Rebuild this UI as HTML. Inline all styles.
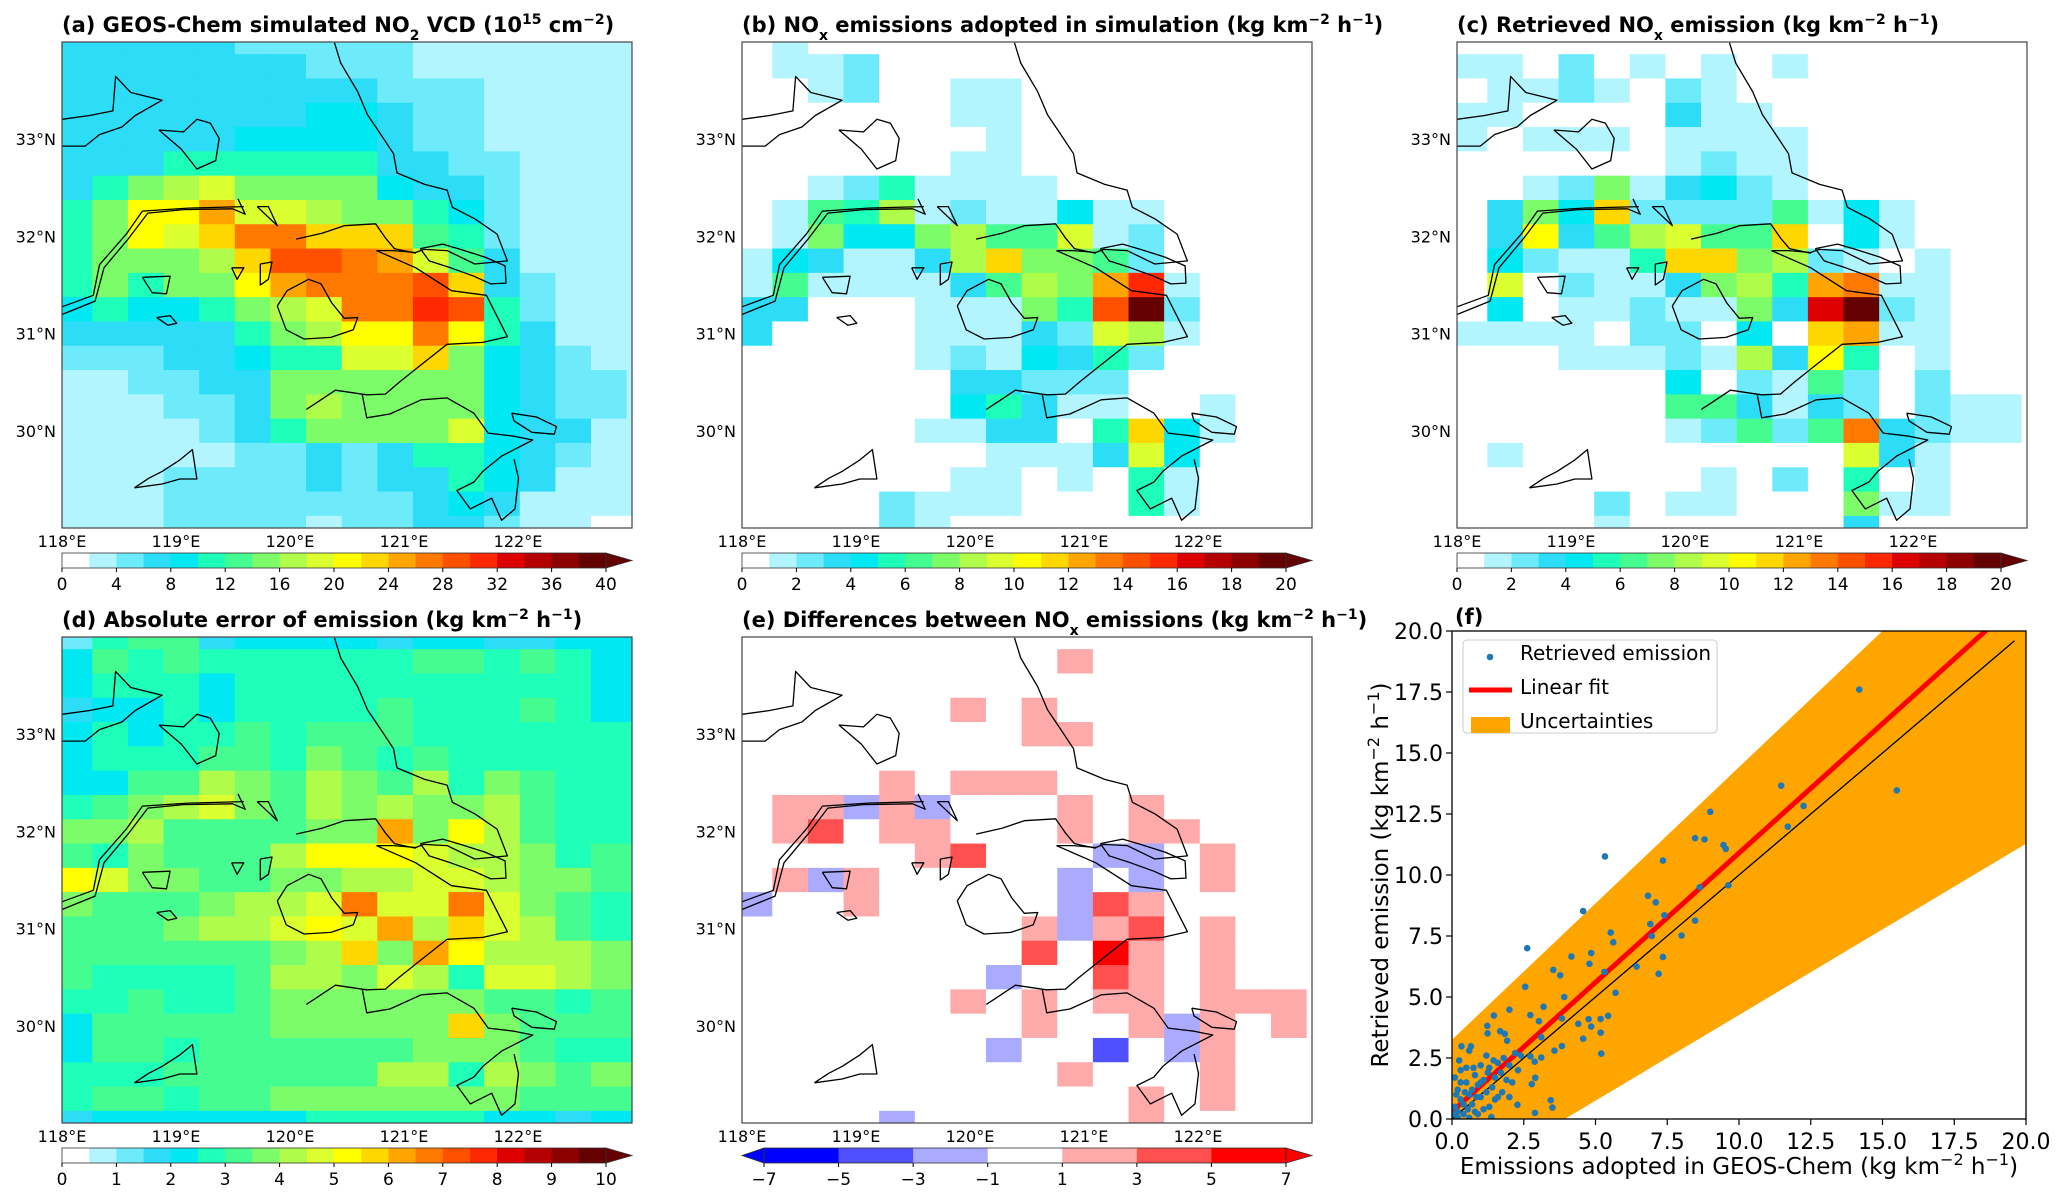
<!DOCTYPE html>
<html><head><meta charset="utf-8">
<style>
html,body{margin:0;padding:0;background:#fff;}
svg{display:block;font-family:"DejaVu Sans","Liberation Sans",sans-serif;}
</style></head>
<body>
<svg id="fig" width="2067" height="1200" viewBox="0 0 2067 1200" xmlns="http://www.w3.org/2000/svg"></svg>
<script>
// ---------- DATA ----------
const lonTicks = [118,119,120,121,122];
const latTicks = [30,31,32,33];
const cbTicksA = [0,4,8,12,16,20,24,28,32,36,40];
const cbTicksBC = [0,2,4,6,8,10,12,14,16,18,20];
const cbTicksD = [0,1,2,3,4,5,6,7,8,9,10];
const cbTicksE = [-7,-5,-3,-1,1,3,5,7];
// panel (a): NO2 VCD (1e15 cm-2), rows north->south, 17 cols west->east
const gridA = [
[7,7,7,7,7,5,5,5,5,5,3,3,3,3,3,3,3],
[7,7,7,7,7,7,7,5,5,5,3,3,3,3,3,3,3],
[7,7,7,7,7,7,7,7,7,5,5,5,3,3,3,3,3],
[7,7,7,7,7,7,7,9,9,7,5,5,3,3,3,3,3],
[7,7,7,7,7,9,9,9,9,7,5,5,3,3,3,3,3],
[7,7,7,11,11,11,11,11,11,7,7,5,5,3,3,3,3],
[7,11,15,17,19,15,15,15,15,9,7,7,5,3,3,3,3],
[11,15,21,21,25,19,19,17,15,15,11,9,5,3,3,3,3],
[11,15,21,19,23,27,27,23,23,23,13,11,5,3,3,3,3],
[11,15,15,15,17,23,29,29,27,25,19,13,7,3,3,3,3],
[11,15,11,15,15,21,25,27,27,27,29,23,7,5,3,3,3],
[9,11,9,9,11,15,17,19,27,27,31,29,11,5,3,3,3],
[7,7,7,7,7,11,15,17,21,21,27,21,11,7,3,3,3],
[5,5,5,7,7,9,11,11,19,19,23,15,9,7,5,3,3],
[3,3,5,5,7,7,15,15,15,15,15,15,9,7,5,5,3],
[3,3,3,5,5,7,15,17,15,15,15,15,9,7,5,5,3],
[3,3,3,3,5,7,11,15,15,15,15,19,9,7,7,3,3],
[3,3,3,3,3,5,5,7,5,7,11,11,9,7,5,3,3],
[3,3,3,5,5,5,5,7,5,7,7,11,9,7,3,3,3],
[3,3,3,5,5,5,5,5,5,5,7,9,7,3,3,3,3],
[3,3,3,5,5,5,5,3,5,5,7,7,5,3,3,0,0]];
// panel (b): emissions adopted (kg km-2 h-1)
const gridB = [
[0,1.5,0,0,0,0,0,0,0,0,0,0,0,0,0,0,0],
[0,1.5,1.5,2.5,0,0,0,0,0,0,0,0,0,0,0,0,0],
[0,0,1.5,2.5,0,0,1.5,1.5,0,0,0,0,0,0,0,0,0],
[0,0,0,0,0,0,1.5,1.5,0,0,0,0,0,0,0,0,0],
[0,0,0,0,0,0,0,1.5,0,0,0,0,0,0,0,0,0],
[0,0,0,0,0,0,1.5,1.5,0,0,0,0,0,0,0,0,0],
[0,0,1.5,2.5,5.5,1.5,1.5,1.5,1.5,0,0,0,0,0,0,0,0],
[0,1.5,6.5,5.5,8.5,1.5,2.5,1.5,1.5,4.5,1.5,1.5,0,0,0,0,0],
[0,1.5,7.5,4.5,4.5,7.5,8.5,6.5,6.5,9.5,1.5,2.5,0,0,0,0,0],
[1.5,4.5,3.5,1.5,1.5,3.5,8.5,11.5,7.5,7.5,6.5,2.5,0,0,0,0,0],
[1.5,6.5,1.5,1.5,1.5,1.5,3.5,6.5,8.5,7.5,12.5,15.5,1.5,0,0,0,0],
[3.5,3.5,0,0,0,1.5,1.5,1.5,7.5,5.5,14.5,19.5,2.5,0,0,0,0],
[3.5,0,0,0,0,1.5,1.5,1.5,3.5,2.5,9.5,8.5,1.5,0,0,0,0],
[0,0,0,0,0,1.5,2.5,1.5,4.5,3.5,5.5,2.5,0,0,0,0,0],
[0,0,0,0,0,0,3.5,3.5,2.5,2.5,2.5,0,0,0,0,0,0],
[0,0,0,0,0,0,4.5,5.5,3.5,1.5,1.5,0,0,1.5,0,0,0],
[0,0,0,0,0,1.5,1.5,3.5,3.5,0,5.5,11.5,4.5,1.5,0,0,0],
[0,0,0,0,0,0,0,1.5,1.5,1.5,3.5,9.5,4.5,0,0,0,0],
[0,0,0,0,0,0,1.5,1.5,0,1.5,0,5.5,1.5,0,0,0,0],
[0,0,0,0,2.5,1.5,1.5,1.5,0,0,0,5.5,1.5,0,0,0,0],
[0,0,0,0,2.5,1.5,0,0,0,0,0,0,0,0,0,0,0]];
// panel (c): retrieved emissions
const gridC = [
[0,0,0,0,0,0,0,0,0,0,0,0,0,0,0,0,0],
[1.5,1.5,0,2.5,0,1.5,0,1.5,0,1.5,0,0,0,0,0,0,0],
[0,1.5,1.5,2.5,1.5,0,2.5,1.5,0,0,0,0,0,0,0,0,0],
[1.5,1.5,0,0,0,0,3.5,1.5,1.5,0,0,0,0,0,0,0,0],
[1.5,0,1.5,1.5,1.5,0,1.5,1.5,1.5,1.5,0,0,0,0,0,0,0],
[0,0,0,0,0,0,1.5,2.5,1.5,1.5,0,0,0,0,0,0,0],
[0,0,1.5,2.5,7.5,1.5,3.5,4.5,2.5,1.5,0,0,0,0,0,0,0],
[0,3.5,7.5,4.5,11.5,2.5,2.5,2.5,2.5,6.5,1.5,4.5,1.5,0,0,0,0],
[0,3.5,10.5,3.5,6.5,8.5,9.5,6.5,6.5,11.5,0,4.5,1.5,0,0,0,0],
[0,4.5,2.5,1.5,1.5,5.5,11.5,11.5,7.5,8.5,2.5,1.5,0,1.5,0,0,0],
[0,9.5,0,2.5,1.5,1.5,3.5,7.5,8.5,5.5,12.5,13.5,1.5,1.5,0,0,0],
[0,4.5,0,1.5,1.5,2.5,1.5,1.5,7.5,3.5,16.5,19.5,2.5,1.5,0,0,0],
[1.5,1.5,1.5,1.5,0,2.5,2.5,0,4.5,0,11.5,12.5,1.5,1.5,0,0,0],
[0,0,0,1.5,1.5,1.5,2.5,1.5,8.5,3.5,10.5,5.5,0,1.5,0,0,0],
[0,0,0,0,0,0,4.5,0,2.5,1.5,6.5,2.5,0,2.5,0,0,0],
[0,0,0,0,0,0,6.5,6.5,3.5,1.5,3.5,2.5,0,2.5,1.5,1.5,0],
[0,0,0,0,0,0,1.5,2.5,6.5,2.5,6.5,13.5,3.5,2.5,1.5,1.5,0],
[0,1.5,0,0,0,0,0,0,0,0,0,9.5,3.5,1.5,0,0,0],
[0,0,0,0,0,0,0,1.5,0,2.5,0,5.5,0,1.5,0,0,0],
[0,0,0,0,2.5,0,1.5,1.5,0,0,0,7.5,1.5,1.5,0,0,0],
[0,0,0,0,1.5,0,0,0,0,0,0,3.5,0,0,0,0,0]];
// panel (d): absolute error
const gridD = [
[1.25,2.75,3.25,3.25,1.75,2.25,2.25,2.25,2.25,1.75,2.25,2.25,1.75,1.75,2.25,2.25,2.25],
[2.25,3.25,2.75,3.25,2.75,2.75,2.75,2.75,2.75,2.75,3.25,3.25,2.75,3.25,2.75,2.25,2.25],
[2.25,2.75,2.75,2.75,2.25,2.75,2.75,2.75,2.75,2.75,2.75,2.75,2.75,2.75,2.75,2.25,2.25],
[1.75,2.25,2.25,2.75,2.25,2.75,2.75,2.75,2.75,3.25,2.75,2.75,2.75,3.25,2.75,2.25,2.25],
[2.25,2.75,2.25,2.75,2.75,3.25,2.75,3.25,3.25,3.25,2.75,2.75,2.75,2.75,2.75,2.75,2.75],
[2.25,2.75,2.75,2.75,3.25,3.25,2.75,3.75,3.25,2.75,3.25,2.75,2.75,2.75,2.75,2.75,2.75],
[2.25,2.25,3.25,3.25,4.25,3.75,3.25,4.25,3.75,3.25,4.25,2.75,3.75,3.25,2.75,2.75,2.75],
[2.75,3.25,3.75,4.25,4.75,3.75,3.25,4.25,3.75,4.25,3.75,3.75,4.25,3.25,2.75,2.75,2.75],
[3.75,3.75,4.25,3.25,3.25,3.25,3.25,3.75,3.75,6.25,3.75,5.25,4.25,3.25,2.75,2.75,2.75],
[3.25,2.75,3.75,3.25,3.25,3.25,4.25,5.25,5.25,5.25,4.75,4.25,4.25,3.75,2.75,3.25,3.25],
[5.25,4.75,3.75,3.75,3.25,3.25,3.75,3.75,4.25,4.25,4.75,4.75,4.25,3.75,3.75,3.25,3.25],
[3.75,3.25,3.25,3.25,3.75,4.25,4.25,4.75,6.75,4.75,4.75,6.75,4.75,3.75,3.25,2.75,2.75],
[3.25,3.25,3.25,3.75,4.25,4.25,4.75,5.25,4.75,6.25,4.25,5.75,4.75,4.25,3.25,2.75,2.75],
[3.25,3.25,3.25,3.25,3.25,3.25,3.75,4.25,5.75,3.75,6.25,5.25,4.25,4.25,4.25,3.75,3.75],
[3.25,2.75,2.75,2.75,2.75,3.25,4.25,4.25,3.75,4.75,4.25,2.75,4.75,4.75,4.25,3.75,3.75],
[2.75,2.75,3.25,2.75,2.75,3.25,3.75,3.75,3.75,3.75,3.75,3.75,3.25,3.25,2.75,3.25,3.25],
[2.25,3.25,3.25,3.25,3.25,3.25,3.75,3.75,3.75,3.75,3.75,5.75,3.75,3.25,3.25,3.25,3.25],
[2.25,3.25,3.25,2.75,3.25,3.25,3.25,3.25,3.25,3.25,3.75,3.75,3.75,3.25,2.75,2.75,2.75],
[2.75,2.75,2.75,3.25,3.25,3.25,3.25,3.25,3.25,4.25,4.25,2.75,4.25,3.75,3.25,3.75,3.75],
[2.75,3.25,3.25,2.75,3.25,3.25,3.75,3.75,3.75,3.75,3.75,3.75,3.75,3.25,3.25,3.25,3.25],
[1.75,2.25,2.25,2.25,2.25,2.25,2.25,2.75,2.75,2.75,2.75,2.75,2.25,2.25,1.75,2.25,2.25]];
// panel (e): differences
const gridE = [
[0,0,0,0,0,0,0,0,0,0,0,0,0,0,0,0,0],
[0,0,0,0,0,0,0,0,0,2,0,0,0,0,0,0,0],
[0,0,0,0,0,0,0,0,0,0,0,0,0,0,0,0,0],
[0,0,0,0,0,0,2,0,2,0,0,0,0,0,0,0,0],
[0,0,0,0,0,0,0,0,2,2,0,0,0,0,0,0,0],
[0,0,0,0,0,0,0,0,0,0,0,0,0,0,0,0,0],
[0,0,0,0,2,0,2,2,2,0,0,0,0,0,0,0,0],
[0,2,2,-2,2,-2,0,0,0,2,0,2,0,0,0,0,0],
[0,2,4,0,2,2,0,0,0,2,0,2,2,0,0,0,0],
[0,0,0,0,0,2,4,0,0,0,-2,-2,0,2,0,0,0],
[0,2,-2,2,0,0,0,0,0,-2,0,-2,0,2,0,0,0],
[-2,0,0,2,0,0,0,0,0,-2,4,2,0,0,0,0,0],
[0,0,0,0,0,0,0,0,2,-2,2,4,0,2,0,0,0],
[0,0,0,0,0,0,0,0,4,0,6,2,0,2,0,0,0],
[0,0,0,0,0,0,0,-2,0,0,4,2,0,2,0,0,0],
[0,0,0,0,0,0,2,0,2,0,2,2,0,2,2,2,0],
[0,0,0,0,0,0,0,0,2,0,0,2,-2,2,0,2,0],
[0,0,0,0,0,0,0,-2,0,0,-4,0,-2,2,0,0,0],
[0,0,0,0,0,0,0,0,0,2,0,0,0,2,0,0,0],
[0,0,0,0,0,0,0,0,0,0,0,2,0,2,0,0,0],
[0,0,0,0,-2,0,0,0,0,0,0,2,0,0,0,0,0]];
// panel (f)
const fTicks = [0,2.5,5,7.5,10,12.5,15,17.5,20];
const fTickLabels = ["0.0","2.5","5.0","7.5","10.0","12.5","15.0","17.5","20.0"];
const adoptedX = [14.19,11.47,15.5,12.25,11.7,9.0,8.47,8.8,9.46,9.54,5.33,7.35,9.63,8.63,6.83,7.1,4.57,7.4,8.47,6.91,6.96,8.0,5.53,5.62,2.62,4.85,4.16,4.79,7.35,6.43,7.2,3.53,3.77,5.31,2.55,5.7,3.91,3.19,2.0,1.46,2.73,5.44,3.83,3.03,4.76,5.18,4.4,4.85,1.23,1.68,1.84,1.24,5.18,3.11,4.57,1.92,0.33,0.66,3.83,5.2,3.57,2.73,3.11,2.88,2.9,2.78,3.44,3.5,2.89,2.28,1.37,
0.1,0.2,0.3,0.1,0.2,0.4,0.5,0.6,0.7,0.8,0.9,1.0,1.1,1.2,1.3,1.4,1.5,1.6,1.7,1.8,1.9,2.0,2.1,2.2,2.3,0.3,0.5,0.6,0.8,1.0,1.2,1.3,0.9,0.6,0.3,0.15,0.4,0.7,1.1,1.5,1.75,2.0,2.4,0.05,0.2,1.0,1.6,0.45,0.55,0.85,1.25,1.45,0.25,0.75];
const retrievedY = [17.6,13.66,13.47,12.83,11.98,12.59,11.51,11.46,11.23,11.07,10.76,10.59,9.58,9.5,9.15,8.88,8.52,8.35,8.13,7.99,7.5,7.52,7.64,7.24,7.0,6.8,6.66,6.36,6.64,6.25,5.95,6.11,5.89,6.03,5.42,5.17,5.0,4.6,4.48,4.24,4.26,4.23,4.12,4.01,4.09,4.1,3.9,3.79,3.82,3.6,3.49,3.51,3.54,3.35,3.29,3.21,2.98,2.98,2.99,2.68,2.8,2.57,2.52,2.35,1.69,1.43,0.77,0.47,0.25,0.58,0.08,
1.7,1.2,0.8,0.5,0.3,0.2,1.5,1.0,0.6,0.3,1.4,0.9,1.6,2.6,2.1,1.3,0.8,2.3,1.9,2.5,1.6,2.2,1.5,2.7,2.0,2.0,2.1,2.8,1.8,2.2,1.1,0.5,0.2,0.05,1.5,1.0,0.6,1.2,0.4,1.7,1.1,0.9,2.6,0.2,0.05,1.5,0.9,1.1,0.4,0.9,1.9,2.4,2.4,2.1];
const fitLine = [0.3, 1.06];      // intercept, slope
const upperBand = [3.25, 1.117];
const lowerBand = [-3.93*0.702, 0.702];
const oneToOneEnd = 19.6;

// ---------- RENDER ----------
const NS="http://www.w3.org/2000/svg";
const svg=document.getElementById('fig');
function mk(tag,attrs,parent){const e=document.createElementNS(NS,tag);for(const k in attrs)e.setAttribute(k,attrs[k]);(parent||svg).appendChild(e);return e;}
const PAL=['#ffffff','#b3f5ff','#6eebfa','#2ddcf7','#00e8f2','#1effba','#45fc90','#7dfc6a','#b0fc4a','#dcff30','#ffff00','#ffd700','#ffa500','#ff7800','#ff5000','#ff2800','#dc0000','#b40000','#8c0000','#640000'];
const EPAL=['#0000ff','#0000ff','#5050ff','#aaaaff','#ffffff','#ffaaaa','#ff5050','#ff0000','#ff0000'];
const EEDGE=[-7,-5,-3,-1,1,3,5,7];
function seqColor(v,step){let l=Math.floor(v/step);if(l<0)l=0;if(l>19)l=19;return PAL[l];}
function divColor(v){let i=0;while(i<EEDGE.length&&v>=EEDGE[i])i++;return EPAL[i];}

const MW=570,MH=486;
const lonEdges=[118];for(let k=0;k<16;k++)lonEdges.push(118.2656+0.3125*k);lonEdges.push(123);
const latEdges=[34];for(let k=0;k<20;k++)latEdges.push(33.875-0.25*k);latEdges.push(29);

// coastline in reference map-pixel coords (1276 x 1270 frame)
const coast=[
[[138,822],[212,787],[232,700],[288,622],[330,557],[410,548],[520,546],[548,560],[532,520]],
[[138,802],[208,772],[222,692],[282,612],[318,552],[420,544],[545,540]],
[[748,112],[762,165],[800,240],[822,300],[852,352],[880,402],[888,452],[950,482],[1000,497],[1012,542],[1062,572],[1112,612],[1135,682],[1062,690],[1000,655],[948,652],[930,660],[880,655],[842,655]],
[[662,625],[720,610],[770,590],[840,585],[862,622],[882,650],[930,662]],
[[940,650],[990,638],[1030,652],[1085,672],[1130,695],[1132,740],[1098,742],[1060,722],[1008,700],[960,682],[940,650]],
[[842,655],[930,700],[1010,760],[1088,772],[1135,880],[1080,895],[1000,900],[935,960],[892,1000],[862,1030],[820,1032],[750,1020],[705,1055],[685,1070]],
[[810,1030],[820,1092],[872,1082],[942,1045],[1000,1040],[1060,1080],[1092,1132],[1150,1140],[1192,1150],[1122,1192],[1080,1232],[1060,1260],[1022,1282],[1052,1330],[1100,1302],[1122,1360],[1152,1330],[1160,1250],[1150,1200]],
[[1145,1080],[1200,1090],[1245,1115],[1240,1135],[1190,1130],[1150,1100],[1145,1080]],
[[620,800],[642,760],[690,730],[718,742],[742,792],[770,832],[800,830],[790,862],[740,882],[680,886],[640,862],[620,800]],
[[138,312],[200,302],[252,290],[258,200],[292,242],[362,262],[302,302],[272,332],[222,352],[190,382],[138,382]],
[[355,340],[410,345],[440,312],[470,322],[490,362],[482,420],[440,442],[420,412],[405,390],[355,340]],
[[300,1275],[332,1250],[362,1232],[402,1202],[430,1175],[440,1252],[402,1252],[362,1265],[300,1275]],
[[318,725],[380,722],[372,768],[340,765],[318,725]],
[[350,830],[380,825],[395,845],[375,850],[350,830]],
[[518,700],[545,700],[530,730],[518,700]],
[[582,690],[608,685],[600,730],[582,745],[582,690]],
[[575,540],[600,540],[620,590],[575,540]]];

function drawMap(name,x0,y0,grid,colorFn,title,cb){
  const g=mk('g',{});
  
  
  const X=lon=>x0+(lon-118)/5*MW, Y=lat=>y0+(34-lat)/5*MH;
  const t=mk('text',{x:x0,y:y0-10,'font-size':21,'font-weight':'bold',fill:'#000'},g);
  
  
  t.innerHTML=title;
  const cells=mk('g',{},g);
  
  
  for(let r=0;r<grid.length;r++)for(let c=0;c<grid[r].length;c++){
    const v=grid[r][c];
    const xa=X(lonEdges[c]),xb=X(lonEdges[c+1]),ya=Y(latEdges[r]),yb=Y(latEdges[r+1]);
    const rc=mk('rect',{x:xa,y:ya,width:xb-xa+0.4,height:yb-ya+0.4,fill:colorFn(v)},cells);
    
    
  }
  const cl=mk('g',{fill:'none',stroke:'#000','stroke-width':1.3,'stroke-linejoin':'round'},g);
  
  
  coast.forEach(p=>{mk('polyline',{points:p.map(q=>(x0+(q[0]-138)/1276*MW).toFixed(1)+','+(y0+(q[1]-110)/1270*MH).toFixed(1)).join(' ')},cl);});
  const fr=mk('rect',{x:x0,y:y0,width:MW,height:MH,fill:'none',stroke:'#444','stroke-width':1.2},g);
  
  
  lonTicks.forEach(l=>{const e=mk('text',{x:X(l),y:y0+MH+19,'font-size':16,'text-anchor':'middle'},g);
    
    
    e.textContent=l+'°E';});
  latTicks.forEach(l=>{const e=mk('text',{x:x0-6,y:Y(l)+6,'font-size':16,'text-anchor':'end'},g);
    
    
    e.textContent=l+'°N';});
  // colorbar
  const cy=y0+MH+25, ch=15;
  const cg=mk('g',{},g);
  
  
  const ticks=cb.ticks, vmin=ticks[0], vmax=ticks[ticks.length-1];
  const cx0=x0+(cb.both?22:0), cx1=x0+MW-(cb.both?26:26);
  const CX=v=>cx0+(v-vmin)/(vmax-vmin)*(cx1-cx0);
  const nseg=cb.segs;
  for(let i=0;i<nseg;i++){const va=vmin+(vmax-vmin)*i/nseg, vb=vmin+(vmax-vmin)*(i+1)/nseg;
    mk('rect',{x:CX(va),y:cy,width:CX(vb)-CX(va)+0.4,height:ch,fill:colorFn((va+vb)/2)},cg);}
  mk('polygon',{points:`${cx1},${cy} ${x0+MW},${cy+ch/2} ${cx1},${cy+ch}`,fill:colorFn(vmax+0.01),stroke:'#333','stroke-width':0.8},cg);
  if(cb.both)mk('polygon',{points:`${cx0},${cy} ${x0},${cy+ch/2} ${cx0},${cy+ch}`,fill:colorFn(vmin-0.01),stroke:'#333','stroke-width':0.8},cg);
  mk('rect',{x:cx0,y:cy,width:cx1-cx0,height:ch,fill:'none',stroke:'#333','stroke-width':0.8},cg);
  ticks.forEach(v=>{mk('line',{x1:CX(v),x2:CX(v),y1:cy+ch,y2:cy+ch+4,stroke:'#000'},cg);
    const e=mk('text',{x:CX(v),y:cy+ch+22,'font-size':17,'text-anchor':'middle'},cg);
    
    
    e.textContent=(v<0?'\u2212'+(-v):v);});
}
const unit='(kg km<tspan baseline-shift="super" font-size="14">\u22122</tspan> h<tspan baseline-shift="super" font-size="14">\u22121</tspan>)';
drawMap('panel-a-no2-vcd',62,42,gridA,v=>seqColor(v,2),'(a) GEOS-Chem simulated NO<tspan baseline-shift="sub" font-size="14">2</tspan> VCD (10<tspan baseline-shift="super" font-size="14">15</tspan> cm<tspan baseline-shift="super" font-size="14">\u22122</tspan>)',{ticks:cbTicksA,segs:20});
drawMap('panel-b-adopted-emissions',742,42,gridB,v=>seqColor(v,1),'(b) NO<tspan baseline-shift="sub" font-size="14">x</tspan> emissions adopted in simulation '+unit,{ticks:cbTicksBC,segs:20});
drawMap('panel-c-retrieved-emission',1457,42,gridC,v=>seqColor(v,1),'(c) Retrieved NO<tspan baseline-shift="sub" font-size="14">x</tspan> emission '+unit,{ticks:cbTicksBC,segs:20});
drawMap('panel-d-absolute-error',62,637,gridD,v=>seqColor(v,0.5),'(d) Absolute error of emission '+unit,{ticks:cbTicksD,segs:20});
drawMap('panel-e-differences',742,637,gridE,divColor,'(e) Differences between NO<tspan baseline-shift="sub" font-size="14">x</tspan> emissions '+unit,{ticks:cbTicksE,segs:7,both:true});

// ---------- panel f ----------
(function(){
  const L=1452,R=2026,T=631,B=1119;
  const g=mk('g',{});
  
  
  const X=v=>L+v/20*(R-L), Y=v=>B-v/20*(B-T);
  const cp=mk('clipPath',{id:'fclip'},g);mk('rect',{x:L,y:T,width:R-L,height:B-T},cp);
  const pg=mk('g',{'clip-path':'url(#fclip)'},g);
  const band=mk('polygon',{points:`${X(0)},${Y(upperBand[0])} ${X(20)},${Y(upperBand[0]+upperBand[1]*20)} ${X(20)},${Y(lowerBand[0]+lowerBand[1]*20)} ${X(-lowerBand[0]/lowerBand[1])},${Y(0)} ${X(0)},${Y(0)}`,fill:'#ffa500'},pg);
  
  
  const one=mk('line',{x1:X(0),y1:Y(0),x2:X(oneToOneEnd),y2:Y(oneToOneEnd),stroke:'#000','stroke-width':1.3},pg);
  
  
  const fit=mk('line',{x1:X(0),y1:Y(fitLine[0]),x2:X(20),y2:Y(fitLine[0]+fitLine[1]*20),stroke:'#ff0000','stroke-width':5},pg);
  
  
  for(let i=0;i<adoptedX.length;i++){
    const d=mk('circle',{cx:X(adoptedX[i]),cy:Y(retrievedY[i]),r:3.3,fill:'#1f77b4'},pg);
    
    
  }
  mk('rect',{x:L,y:T,width:R-L,height:B-T,fill:'none',stroke:'#000','stroke-width':1.3},g);
  fTicks.forEach((v,i)=>{
    mk('line',{x1:X(v),x2:X(v),y1:B,y2:B+6,stroke:'#000','stroke-width':1.2},g);
    const a=mk('text',{x:X(v),y:B+30,'font-size':22,'text-anchor':'middle'},g);
    
    
    a.textContent=fTickLabels[i];
    mk('line',{x1:L-6,x2:L,y1:Y(v),y2:Y(v),stroke:'#000','stroke-width':1.2},g);
    const b=mk('text',{x:L-9,y:Y(v)+8,'font-size':22,'text-anchor':'end'},g);
    
    
    b.textContent=fTickLabels[i];
  });
  const xt=mk('text',{x:(L+R)/2,y:1174,'font-size':23,'text-anchor':'middle'},g);
  
  
  xt.innerHTML='Emissions adopted in GEOS-Chem (kg km<tspan baseline-shift="super" font-size="16">\u22122</tspan> h<tspan baseline-shift="super" font-size="16">\u22121</tspan>)';
  const yt=mk('text',{x:0,y:0,'font-size':23,'text-anchor':'middle',transform:`translate(1388,${(T+B)/2}) rotate(-90)`},g);
  
  
  yt.innerHTML='Retrieved emission (kg km<tspan baseline-shift="super" font-size="16">\u22122</tspan> h<tspan baseline-shift="super" font-size="16">\u22121</tspan>)';
  const ft=mk('text',{x:1455,y:624,'font-size':21,'font-weight':'bold'},g);
  
  
  ft.textContent='(f)';
  // legend
  const lg=mk('g',{},g);
  
  
  mk('rect',{x:1463,y:640,width:254,height:93,rx:4,fill:'#fff','fill-opacity':0.85,stroke:'#ccc'},lg);
  mk('circle',{cx:1490,cy:657,r:3.3,fill:'#1f77b4'},lg);
  mk('line',{x1:1469,x2:1512,y1:690,y2:690,stroke:'#ff0000','stroke-width':5},lg);
  mk('rect',{x:1471,y:717,width:39,height:16,fill:'#ffa500'},lg);
  [['Retrieved emission',664],['Linear fit',698],['Uncertainties',732]].forEach(e=>{
    const t=mk('text',{x:1520,y:e[1]-4,'font-size':20},lg);
    
    
    t.textContent=e[0];});
})();
</script>
</body></html>
